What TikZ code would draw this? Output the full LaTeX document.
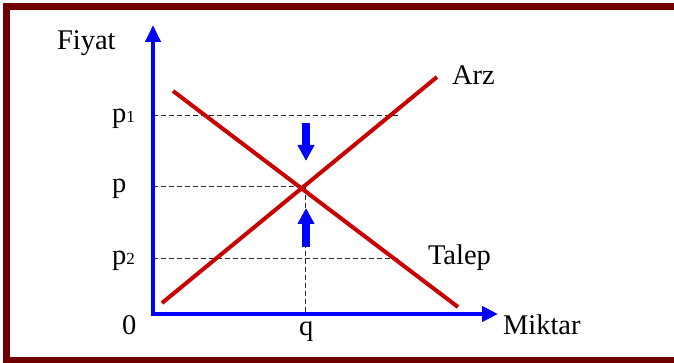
\documentclass[tikz,border=0pt]{standalone}
\usepackage{fontspec}
\setmainfont{Liberation Serif}
\newfontfamily\timesfam{Liberation Serif}
\usetikzlibrary{arrows.meta}
\definecolor{framered}{HTML}{700000}
\definecolor{curvered}{HTML}{C80000}
\definecolor{axisblue}{HTML}{0000FF}
\tikzset{
  axisline/.style={draw=axisblue, line width=4pt,
    {Triangle[length=17pt,width=15pt]}-{Triangle[length=16pt,width=15pt]}},
  curve/.style={draw=curvered, line width=4pt},
  guide/.style={draw=black!85, line width=1pt, dash pattern=on 5pt off 3pt},
  movearrow/.style={draw=axisblue, fill=axisblue, line width=8pt,
    -{Triangle[length=16pt,width=16pt]}},
  lbl/.style={anchor=base west, inner sep=0pt, outer sep=0pt,
    font=\timesfam\fontsize{28.5}{30}\selectfont},
}
\newcommand{\subsz}[1]{{\fontsize{17}{17}\selectfont #1}}
\begin{document}
\begin{tikzpicture}[x=1pt,y=-1pt]
\useasboundingbox (0,0) rectangle (674,363);
% frame (right side lies outside the picture)
\coordinate (F1) at (674,7);
\coordinate (F2) at (6.5,7);
\coordinate (F3) at (6.5,360.5);
\coordinate (F4) at (674,360.5);
\draw[framered, line width=7pt, line join=miter, line cap=butt] (F1) -- (F2) -- (F3) -- (F4);
% coordinates
\coordinate (O) at (153,314);
\coordinate (Ytip) at (153,25);
\coordinate (Xtip) at (498,314);
\coordinate (E) at (305,187);
\coordinate (P1a) at (153,116);
\coordinate (P1b) at (400,116);
\coordinate (Pa) at (153,187);
\coordinate (P2a) at (153,258);
\coordinate (P2b) at (400,258);
\coordinate (Q) at (305,314);
\coordinate (S1) at (162,303);
\coordinate (S2) at (437,77);
\coordinate (D1) at (173,91);
\coordinate (D2) at (458,307);
\coordinate (Dn1) at (306,123);
\coordinate (Dn2) at (306,161);
\coordinate (Up1) at (306,247);
\coordinate (Up2) at (306,208);
% guides
\draw[guide] (P1a) -- (P1b);
\draw[guide] (Pa) -- (E);
\draw[guide] (P2a) -- (P2b);
\draw[guide] (E) -- (Q);
% curves
\draw[curve] (S1) -- (S2);
\draw[curve] (D1) -- (D2);
% axes
\draw[axisline] (Ytip) -- (O) -- (Xtip);
% movement arrows
\draw[movearrow] (Dn1) -- (Dn2);
\draw[movearrow] (Up1) -- (Up2);
% labels
\node[lbl] (fiyat) at (57,50) {Fiyat};
\node[lbl] (miktar) at (503,334) {Miktar};
\node[lbl] (arz) at (452,85) {Arz};
\node[lbl] (talep) at (428,264) {Talep};
\node[lbl] (p1) at (112,123) {p\subsz{1}};
\node[lbl] (p) at (112,193) {p};
\node[lbl] (p2) at (112,265) {p\subsz{2}};
\node[lbl] (zero) at (122,334) {0};
\node[lbl] (q) at (299,335) {q};
\end{tikzpicture}
\end{document}
